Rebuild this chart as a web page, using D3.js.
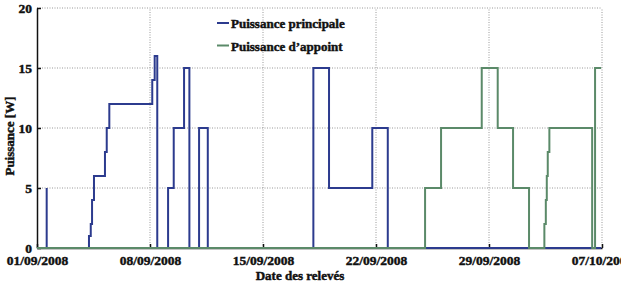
<!DOCTYPE html>
<html>
<head>
<meta charset="utf-8">
<script src="https://cdn.jsdelivr.net/npm/d3@7"></script>
<style>
  body { margin: 0; background: #fff; }
  svg { display: block; }
</style>
</head>
<body>
<div id="chart"></div>
<script>
// days counted from 01/09/2008, values in W (step after each point)
var principalDays  = [0, 0.6, 0.6, 3.22, 3.33, 3.41, 3.53, 4.21, 4.32, 4.48, 7.14, 7.29, 7.45, 8.12, 8.47, 9.11, 9.44, 10.04, 10.58, 17.12, 18.09, 20.77, 21.73, 34.95];
var principalWatts = [0, 5,   0,   1,    2,    4,    6,    8,    10,   12,   14,   16,   0,    5,    10,   15,   0,    10,    0,     15,    5,     10,    0,     0];
var appointDays  = [0, 24.04, 25.03, 27.55, 28.54, 29.49, 30.48, 31.43, 31.52, 31.58, 31.64, 31.74, 34.39, 34.57, 34.95];
var appointWatts = [0, 5,     10,    15,    10,    5,     0,     2,     4,     6,     8,     10,    0,     15,    15];

var tickDays   = [0, 7, 14, 21, 28, 35];
var tickLabels = ["01/09/2008", "08/09/2008", "15/09/2008", "22/09/2008", "29/09/2008", "07/10/2008"];
var yTicks = [0, 5, 10, 15, 20];
var seriesNames = ["Puissance principale", "Puissance d\u2019appoint"];
var seriesColors = ["#2c3b8e", "#5b8a69"];

var width = 621, height = 285;
var svg = d3.select("#chart").append("svg")
  .attr("width", width)
  .attr("height", height)
  .attr("font-family", "'Liberation Serif', 'Times New Roman', serif")
  .attr("font-weight", 700);

var x = d3.scaleLinear().domain([0, 35]).range([37, 602]);
var y = d3.scaleLinear().domain([0, 20]).range([248, 8]);

// grid
svg.append("g")
  .selectAll("line")
  .data(tickDays.slice(1))
  .enter().append("line")
  .attr("x1", d => x(d)).attr("x2", d => x(d))
  .attr("y1", y(0)).attr("y2", y(20))
  .attr("stroke", "#999")
  .attr("stroke-width", 1)
  .attr("stroke-dasharray", "1,1.5");

svg.append("g")
  .selectAll("line")
  .data(yTicks.slice(1))
  .enter().append("line")
  .attr("x1", x(0)).attr("x2", x(35))
  .attr("y1", d => y(d)).attr("y2", d => y(d))
  .attr("stroke", "#999")
  .attr("stroke-width", 1)
  .attr("stroke-dasharray", "1,1.5");

// axes
var xAxis = svg.append("g")
  .attr("transform", "translate(0," + y(0) + ")")
  .call(d3.axisBottom(x)
    .tickValues(tickDays)
    .tickFormat((d, i) => tickLabels[i])
    .tickSize(-4)
    .tickSizeOuter(0)
    .tickPadding(7));

var yAxis = svg.append("g")
  .attr("transform", "translate(" + x(0) + ",0)")
  .call(d3.axisLeft(y)
    .tickValues(yTicks)
    .tickSize(-4)
    .tickSizeOuter(0)
    .tickPadding(5));

[xAxis, yAxis].forEach(function (g) {
  g.attr("font-family", null).attr("font-size", null);
  g.selectAll("text")
    .attr("fill", "#111")
    .attr("font-size", 13.5)
    .attr("font-weight", 700)
    .attr("stroke", "#111")
    .attr("stroke-width", 0.45);
  g.selectAll("line").attr("stroke", "#111").attr("stroke-width", 1.5);
  g.select(".domain").attr("stroke", "#111").attr("stroke-width", 1.5);
});

// series
var line = d3.line()
  .x(d => x(d[0]))
  .y(d => y(d[1]))
  .curve(d3.curveStepAfter);

var principal = d3.zip(principalDays, principalWatts);
var appoint = d3.zip(appointDays, appointWatts);

[principal, appoint].forEach(function (data, i) {
  svg.append("path")
    .datum(data)
    .attr("fill", "none")
    .attr("stroke", seriesColors[i])
    .attr("stroke-width", 2)
    .attr("d", line);
});

// legend
var legend = svg.append("g");
seriesNames.forEach(function (name, i) {
  var ly = 23 + i * 22.5;
  legend.append("line")
    .attr("x1", 217).attr("x2", 229)
    .attr("y1", ly).attr("y2", ly)
    .attr("stroke", seriesColors[i])
    .attr("stroke-width", 2);
  legend.append("text")
    .attr("x", 231)
    .attr("y", ly + 5)
    .attr("font-size", 13)
    .attr("fill", "#111")
    .attr("stroke", "#111")
    .attr("stroke-width", 0.45)
    .text(name);
});

// axis titles
svg.append("text")
  .attr("x", 300)
  .attr("y", 280)
  .attr("text-anchor", "middle")
  .attr("font-size", 13)
  .attr("fill", "#111")
  .attr("stroke", "#111")
  .attr("stroke-width", 0.45)
  .text("Date des relevés");

svg.append("text")
  .attr("transform", "translate(14,136) rotate(-90)")
  .attr("text-anchor", "middle")
  .attr("font-size", 13)
  .attr("fill", "#111")
  .attr("stroke", "#111")
  .attr("stroke-width", 0.45)
  .text("Puissance [W]");
</script>
</body>
</html>
